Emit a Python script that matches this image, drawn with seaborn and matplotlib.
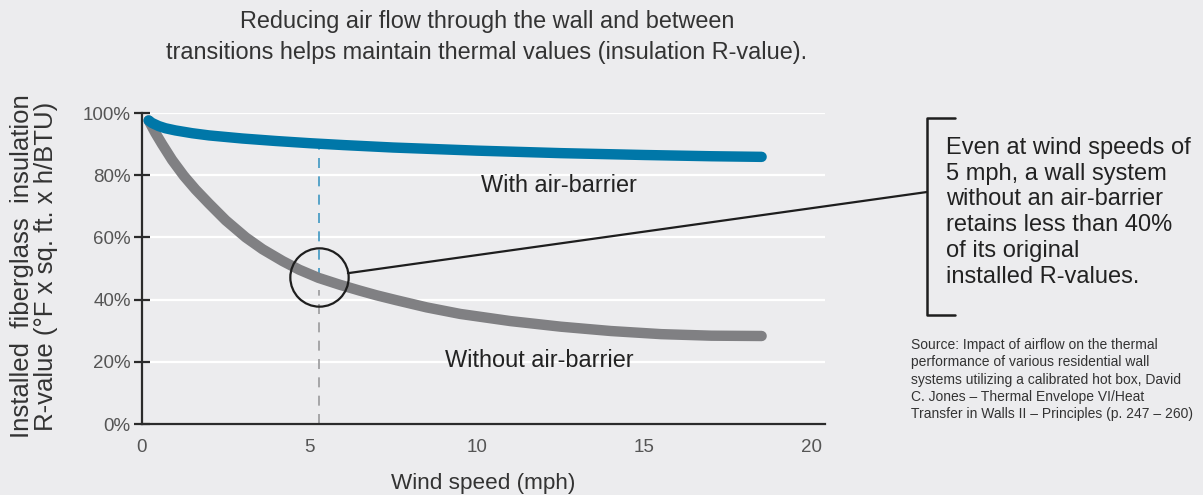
import numpy as np
import pandas as pd
import seaborn as sns
import matplotlib.pyplot as plt

# data (wind speed in mph, R-value retained in %)
wind_with = [0.2, 0.3, 0.5, 0.7, 1, 1.5, 2, 3, 4, 5, 6, 7.5, 9, 10, 12.5, 15, 17, 18.5]
rval_with = [97.6, 96.8, 95.8, 95.1, 94.4, 93.5, 92.8, 91.8, 91.0, 90.3, 89.7, 88.9, 88.3, 87.9,
             87.1, 86.5, 86.1, 85.9]

wind_without = [0.2, 0.4, 0.6, 0.9, 1.25, 1.6, 2.0, 2.5, 3.1, 3.6, 4.2, 4.7, 5.27, 5.9, 6.5,
                7.0, 7.6, 8.5, 9.5, 11, 12.5, 14, 15.5, 17, 18.5]
rval_without = [97.6, 93.6, 90.0, 84.9, 79.8, 75.4, 70.9, 65.5, 60.0, 56.2, 52.4, 49.6, 47.0,
                44.8, 42.9, 41.4, 39.8, 37.5, 35.4, 33.1, 31.3, 29.9, 28.9, 28.4, 28.3]

xticks = [0, 5, 10, 15, 20]
yticks = [0, 20, 40, 60, 80, 100]
ytick_labels = ["0%", "20%", "40%", "60%", "80%", "100%"]

bg = "#ECECEE"
blue = "#0077A8"
grey = "#808083"
ink = "#2B2B2B"

sns.set_theme(style="white", rc={"axes.facecolor": bg, "figure.facecolor": bg})
plt.rcParams["font.family"] = ["Liberation Sans", "DejaVu Sans"]

df_with = pd.DataFrame({"wind": wind_with, "r": rval_with})
df_without = pd.DataFrame({"wind": wind_without, "r": rval_without})

fig = plt.figure(figsize=(12.03, 4.95), dpi=100)
ax = fig.add_axes([0.118, 0.1434, 0.568, 0.6283])

ax.set_xlim(0, 20.4)
ax.set_ylim(0, 100)
ax.set_yticks(yticks)
ax.set_yticklabels(ytick_labels)
ax.set_xticks(xticks)
ax.grid(axis="y", color="white", lw=1.6)
ax.set_axisbelow(True)

# dashed marker at 5 mph
x5 = 5.3
top_b = np.interp(x5, wind_with, rval_with) - 1.5
ax.plot([x5, x5], [47, top_b], color="#3F97C2", lw=1.2, ls=(0, (6, 5)), zorder=2)
ax.plot([x5, x5], [0, 43], color="#9A9A9C", lw=1.2, ls=(0, (6, 5)), zorder=2)

sns.lineplot(data=df_without, x="wind", y="r", ax=ax, color=grey, lw=7.5,
             solid_capstyle="round", solid_joinstyle="round", zorder=3, clip_on=False)
sns.lineplot(data=df_with, x="wind", y="r", ax=ax, color=blue, lw=7.5,
             solid_capstyle="round", solid_joinstyle="round", zorder=4, clip_on=False)

# circle highlight
ax.plot([x5], [47.3], "o", ms=42, mfc="none", mec="#1E1E1E", mew=1.6, zorder=5)

for s in ["top", "right"]:
    ax.spines[s].set_visible(False)
for s in ["left", "bottom"]:
    ax.spines[s].set_color(ink)
    ax.spines[s].set_linewidth(1.6)

ax.tick_params(axis="y", direction="inout", length=12, width=1.6, color=ink,
               labelsize=13.5, labelcolor="#555555", pad=2, left=True)
ax.tick_params(axis="x", length=0, labelsize=13.5, labelcolor="#555555", pad=11)
ax.set_xlabel("Wind speed (mph)", fontsize=16.2, color="#333333", labelpad=12)
ax.set_ylabel("")

fig.text(34 / 1203, 1 - 266 / 495,
         "Installed  fiberglass  insulation\nR-value (°F x sq. ft. x h/BTU)",
         rotation=90, ha="center", va="center", fontsize=18.5, color="#333333",
         linespacing=1.05)

fig.text(487 / 1203, 1 - 37 / 495,
         "Reducing air flow through the wall and between\n"
         "transitions helps maintain thermal values (insulation R-value).",
         ha="center", va="center", fontsize=16.9, color="#333333", linespacing=1.45)

ax.text(12.46, 76.8, "With air-barrier", ha="center", va="center", fontsize=16.9, color="#222222")
ax.text(11.87, 20.3, "Without air-barrier", ha="center", va="center", fontsize=16.9, color="#222222")

# callout line and bracket
bx = 927 / 1203
ax.annotate("", xy=(bx, 1 - 192 / 495), xycoords="figure fraction",
            xytext=(6.15, 48.5), textcoords="data",
            arrowprops=dict(arrowstyle="-", color="#1E1E1E", lw=1.6, shrinkA=0, shrinkB=0))
y_top, y_bot = 1 - 118 / 495, 1 - 315 / 495
fig.lines.append(plt.Line2D([955 / 1203, bx, bx, 955 / 1203], [y_top, y_top, y_bot, y_bot],
                            transform=fig.transFigure, color="#1E1E1E", lw=1.8))

fig.text(946 / 1203, 1 - 137 / 495,
         "Even at wind speeds of\n5 mph, a wall system\nwithout an air-barrier\n"
         "retains less than 40%\nof its original\ninstalled R-values.",
         ha="left", va="top", fontsize=17, color="#222222", linespacing=1.22)

fig.text(911 / 1203, 1 - 338 / 495,
         "Source: Impact of airflow on the thermal\nperformance of various residential wall\n"
         "systems utilizing a calibrated hot box, David\nC. Jones – Thermal Envelope VI/Heat\n"
         "Transfer in Walls II – Principles (p. 247 – 260)",
         ha="left", va="top", fontsize=10, color="#333333", linespacing=1.3)

fig.savefig("out.png", dpi=100, facecolor=bg)
